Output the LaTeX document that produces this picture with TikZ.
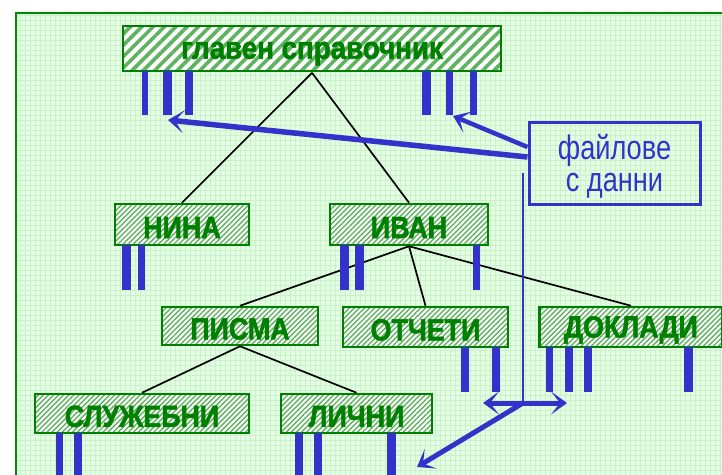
\documentclass[tikz,border=0pt]{standalone}
\usepackage{fontspec}
\setmainfont{Liberation Sans}
\newfontfamily\labelfont{Liberation Sans}[FakeStretch=0.88, FakeBold=1.8]
\newfontfamily\notefont{Liberation Sans}[FakeStretch=0.8]
\usetikzlibrary{patterns.meta,arrows.meta,calc}

\definecolor{boxgreen}{RGB}{0,128,0}
\definecolor{labelgreen}{RGB}{0,128,0}
\definecolor{hatch}{RGB}{95,178,95}
\definecolor{barblue}{RGB}{51,51,204}
\definecolor{paper}{RGB}{226,255,226}
\definecolor{gridc}{RGB}{204,240,204}
\definecolor{framegreen}{RGB}{0,140,0}

\tikzset{
  box/.style={draw=boxgreen, line width=2.5pt, preaction={fill=white},
    pattern={Lines[angle=45,distance=3.6pt,line width=1.4pt]}, pattern color=hatch,
    text=labelgreen, font=\labelfont\bfseries\fontsize{30.5}{32}\selectfont,
    text height=27pt, inner sep=0pt},
  bigbox/.style={box, pattern={Lines[angle=45,distance=8pt,line width=3.6pt]},
    font=\labelfont\bfseries\fontsize{31.5}{33}\selectfont},
  link/.style={draw=black, line width=1.7pt},
  bar/.style={draw=barblue, line width=#1},
  bluearrow/.style={draw=barblue, line width=#1,
    -{Stealth[length=16pt,width=23pt,inset=9pt]}},
  bluedouble/.style={draw=barblue, line width=#1,
    {Stealth[length=16pt,width=23pt,inset=9pt]}-{Stealth[length=16pt,width=23pt,inset=9pt]}},
  notebox/.style={draw=barblue, line width=3pt, text=barblue, align=center,
    font=\notefont\fontsize{34}{31.5}\selectfont, inner sep=0pt, text depth=0pt},
}

\begin{document}
\begin{tikzpicture}[x=1pt, y=-1pt]
  % page and grid paper
  \useasboundingbox (0,0) rectangle (722,474);
  \clip (0,0) rectangle (722,474);
  \fill[white] (0,0) rectangle (722,474);
  \fill[paper] (16,13) rectangle (740,490);
  \draw[gridc, line width=0.5pt, xstep=5pt, ystep=5pt] (16,13) grid (740,490);
  \draw[framegreen, line width=2pt] (16,13) rectangle (740,490);

  % directory boxes
  \node[bigbox, minimum width=378pt, minimum height=45pt] (main) at (312,48.5) {главен справочник};
  \node[box, minimum width=134pt, minimum height=41pt] (nina) at (182,224.5) {НИНА};
  \node[box, minimum width=158pt, minimum height=41pt] (ivan) at (409,224.5) {ИВАН};
  \node[box, minimum width=156pt, minimum height=38pt] (pisma) at (240,326) {ПИСМА};
  \node[box, minimum width=165pt, minimum height=40pt] (otcheti) at (425.5,327) {ОТЧЕТИ};
  \node[box, minimum width=183pt, minimum height=40pt] (dokladi) at (631,327) {ДОКЛАДИ};
  \node[box, minimum width=214pt, minimum height=39pt] (sluzh) at (142,413.5) {СЛУЖЕБНИ};
  \node[box, minimum width=151pt, minimum height=39pt] (lichni) at (356.5,413.5) {ЛИЧНИ};

  % tree links
  \draw[link] (main.south) -- (nina.north);
  \draw[link] (main.south) -- (ivan.north);
  \draw[link] (ivan.south) -- (pisma.north);
  \draw[link] (ivan.south) -- (otcheti.north);
  \draw[link] (ivan.south) -- (dokladi.north);
  \draw[link] (pisma.south) -- (sluzh.north);
  \draw[link] (pisma.south) -- (lichni.north);

  % data files hanging under each directory
  \draw[bar=6.5pt] (145,71) -- (145,115);
  \draw[bar=8.5pt] (167.5,71) -- (167.5,115);
  \draw[bar=8.5pt] (189,71) -- (189,115);
  \draw[bar=9pt] (426.5,71) -- (426.5,115);
  \draw[bar=7pt] (449.5,71) -- (449.5,115);
  \draw[bar=7pt] (473.5,71) -- (473.5,115);

  \draw[bar=9pt] (126.5,245) -- (126.5,290);
  \draw[bar=7pt] (141.5,245) -- (141.5,290);
  \draw[bar=9pt] (344.5,245) -- (344.5,290);
  \draw[bar=9pt] (359.5,245) -- (359.5,290);
  \draw[bar=7pt] (476.5,245) -- (476.5,290);

  \draw[bar=8pt] (465,347) -- (465,392);
  \draw[bar=8pt] (496,347) -- (496,392);
  \draw[bar=7pt] (549.5,347) -- (549.5,392);
  \draw[bar=8pt] (568.5,347) -- (568.5,392);
  \draw[bar=8pt] (587.5,347) -- (587.5,392);
  \draw[bar=9pt] (688.5,347) -- (688.5,392);

  \draw[bar=7pt] (59.5,433) -- (59.5,480);
  \draw[bar=8pt] (78,433) -- (78,480);
  \draw[bar=8pt] (299,433) -- (299,480);
  \draw[bar=8pt] (318,433) -- (318,480);
  \draw[bar=9pt] (391.5,433) -- (391.5,480);

  % legend box and its pointers
  \node[notebox, minimum width=171pt, minimum height=82pt] (files) at (614.5,163) {файлове\\с данни};

  \coordinate (t1) at (168,120);
  \coordinate (t2) at (453,116);
  \draw[bluearrow=5.5pt] ($(files.west)+(0,-6)$) -- (t1);
  \draw[bluearrow=4.5pt] ($(files.west)+(0,-16)$) -- (t2);

  \coordinate (vtop) at (523,173);
  \coordinate (hub) at (523,403);
  \coordinate (hl) at (483,403);
  \coordinate (hr) at (567,403);
  \coordinate (dl) at (417,467);
  \draw[draw=barblue, line width=2.5pt] (vtop) -- (hub);
  \draw[bluedouble=5pt] (hl) -- (hr);
  \draw[bluearrow=5pt] (hub) -- (dl);
\end{tikzpicture}
\end{document}
